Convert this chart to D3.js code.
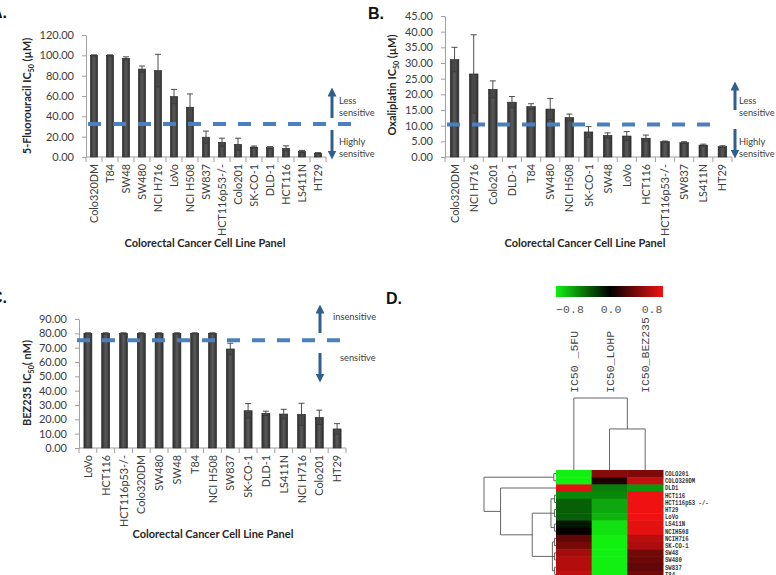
<!DOCTYPE html>
<html><head><meta charset="utf-8">
<script src="https://cdn.jsdelivr.net/npm/d3@7"></script>
<style>body{margin:0;background:#fff}svg{display:block}</style>
</head><body>
<script>
// ---------- DATA ----------
const cellsA = ["Colo320DM","T84","SW48","SW480","NCI H716","LoVo","NCI H508","SW837","HCT116p53-/-","Colo201","SK-CO-1","DLD-1","HCT116","LS411N","HT29"];
const valuesA = [100,100,97,86.5,85,59.5,49,19.5,14.5,12.5,9.8,9.2,8.5,5.5,3.8];
const errorsA = [0.5,0.5,1.5,3,16,7,13,6,4,6,1,1,2.5,1,0.5];
const ticksA = [0,20,40,60,80,100,120];
const thresholdA = 32.5;

const cellsB = ["Colo320DM","NCI H716","Colo201","DLD-1","T84","SW480","NCI H508","SK-CO-1","SW48","LoVo","HCT116","HCT116p53-/-","SW837","LS411N","HT29"];
const valuesB = [31.1,26.5,21.6,17.5,16.1,15.3,12.6,8,6.9,6.7,6,4.9,4.6,3.8,3.3];
const errorsB = [3.9,12.5,2.7,1.8,0.9,3.4,1.1,1.7,0.8,1.4,1,0.2,0.3,0.3,0.3];
const ticksB = [0,5,10,15,20,25,30,35,40,45];
const thresholdB = 10.4;

const cellsC = ["LoVo","HCT116","HCT116p53-/-","Colo320DM","SW480","SW48","T84","NCI H508","SW837","SK-CO-1","DLD-1","LS411N","NCI H716","Colo201","HT29"];
const valuesC = [80,80,80,80,80,80,80,80,69.1,26,24.2,23.7,23.5,21.4,13.3];
const errorsC = [0.4,0.4,0.4,0.4,0.4,0.4,0.4,0.4,4,5,1.5,3.3,7.7,5,3.7];
const ticksC = [0,10,20,30,40,50,60,70,80,90];
const thresholdC = 75.1;

const hmRows = ["COLO201","COLO320DM","DLD1","HCT116","HCT116p53 -/-","HT29","LoVo","LS411N","NCIH508","NCIH716","SK-CO-1","SW48","SW480","SW837","T84"];
const hmCols = ["IC50 _5FU","IC50_LOHP","IC50_BEZ235"];
const hm5FU  = [-0.8,-0.8,0.75,-0.46,-0.32,-0.32,-0.32,-0.08,0.02,0.32,0.4,0.55,0.6,0.6,0.65];
const hmLOHP = [0.45,0.1,-0.42,-0.46,-0.56,-0.56,-0.6,-0.75,-0.75,-0.8,-0.8,-0.8,-0.8,-0.8,-0.8];
const hmBEZ  = [0.42,0.65,-0.5,0.8,0.8,0.8,0.8,0.76,0.76,0.62,0.58,0.38,0.36,0.32,0.38];
const colorTicks = [-0.8,0.0,0.8];
const rowTree = {h:1,c:[{h:0.03,c:["COLO201","COLO320DM"]},
  {h:0.77,c:["DLD1",{h:0.33,c:[
    {h:0.07,c:[{h:0.02,c:["HCT116","HCT116p53 -/-"]},{h:0.02,c:["HT29","LoVo"]},{h:0.02,c:["LS411N","NCIH508"]}]},
    {h:0.05,c:[{h:0.02,c:["NCIH716","SK-CO-1"]},{h:0.02,c:["SW48","SW480"]},{h:0.02,c:["SW837","T84"]}]}]}]}]};
const colTree = {h:1,c:["IC50 _5FU",{h:0.57,c:["IC50_LOHP","IC50_BEZ235"]}]};

// ---------- DRAW ----------
const W=776,H=575;
const svg=d3.select("body").append("svg").attr("width",W).attr("height",H);
const FONT="Lato, 'Liberation Sans', sans-serif";
const defs=svg.append("defs");
const grad=defs.append("linearGradient").attr("id","barg").attr("x1","0").attr("x2","1").attr("y1","0").attr("y2","0");
grad.append("stop").attr("offset","0").attr("stop-color","#2e2e2e");
grad.append("stop").attr("offset","0.5").attr("stop-color","#5a5a5a");
grad.append("stop").attr("offset","1").attr("stop-color","#2e2e2e");
defs.append("marker").attr("id","ah").attr("viewBox","0 0 10 10").attr("refX",5).attr("refY",5)
  .attr("markerWidth",3).attr("markerHeight",3).attr("orient","auto-start-reverse")
  .append("path").attr("d","M0,0 L10,5 L0,10 z").attr("fill","#2f5f8f");

function barPanel(o){
  const g=svg.append("g");
  const x=d3.scaleBand().domain(o.cats).range([o.x0,o.x1]).paddingInner(0.55).paddingOuter(0.275);
  const y=d3.scaleLinear().domain([0,d3.max(o.ticks)]).range([o.yb,o.yt]);
  const ya=g.append("g").attr("transform",`translate(${o.x0},0)`)
    .call(d3.axisLeft(y).tickValues(o.ticks).tickFormat(d3.format(".2f")).tickSize(4).tickSizeOuter(0).tickPadding(8));
  ya.selectAll("path,line").attr("stroke","#a0a0a0");
  ya.selectAll("text").attr("font-family",FONT).attr("font-size",11).attr("fill","#3c3c3c");
  g.append("line").attr("x1",o.x0).attr("x2",o.x1).attr("y1",o.yb).attr("y2",o.yb).attr("stroke","#a0a0a0");
  g.selectAll(".xt").data(d3.range(o.cats.length+1)).join("line")
    .attr("x1",i=>o.x0+i*x.step()).attr("x2",i=>o.x0+i*x.step())
    .attr("y1",o.yb).attr("y2",o.yb+5).attr("stroke","#a0a0a0");
  g.selectAll(".xl").data(o.cats).join("text")
    .attr("transform",d=>`translate(${x(d)+x.bandwidth()/2+4},${o.yb+7}) rotate(-90)`)
    .attr("text-anchor","end").attr("font-family",FONT).attr("font-size",10.8).attr("fill","#3c3c3c").text(d=>d);
  g.selectAll(".bar").data(o.vals).join("rect")
    .attr("x",(d,i)=>x(o.cats[i])).attr("width",x.bandwidth())
    .attr("y",d=>y(d)).attr("height",d=>o.yb-y(d))
    .attr("fill","url(#barg)").attr("stroke","#262626").attr("stroke-width",0.6);
  const eg=g.append("g").attr("stroke","#3a3a3a").attr("stroke-width",0.9);
  o.vals.forEach((v,i)=>{
    const cx=x(o.cats[i])+x.bandwidth()/2, e=o.errs[i];
    eg.append("line").attr("x1",cx).attr("x2",cx).attr("y1",y(v+e)).attr("y2",y(v-e));
    eg.append("line").attr("x1",cx-3).attr("x2",cx+3).attr("y1",y(v+e)).attr("y2",y(v+e));
    eg.append("line").attr("x1",cx-3).attr("x2",cx+3).attr("y1",y(v-e)).attr("y2",y(v-e));
  });
  g.append("line").attr("x1",o.dx).attr("x2",o.dx+263).attr("y1",y(o.thr)).attr("y2",y(o.thr))
    .attr("stroke","#4a7fc0").attr("stroke-width",4).attr("stroke-dasharray","13,12");
  const ag=g.append("g").attr("stroke","#2f5f8f").attr("stroke-width",3);
  ag.append("line").attr("x1",o.ax).attr("x2",o.ax).attr("y1",o.up[0]).attr("y2",o.up[1]+4).attr("marker-end","url(#ah)");
  ag.append("line").attr("x1",o.ax).attr("x2",o.ax).attr("y1",o.dn[0]).attr("y2",o.dn[1]-4).attr("marker-end","url(#ah)");
  o.notes.forEach(n=>g.append("text").attr("x",n[0]).attr("y",n[1]).attr("font-family",FONT)
    .attr("font-size",o.noteSize).attr("fill","#404040").text(n[2]));
  const yt=g.append("text").attr("transform",`translate(${o.ytx},${o.yty}) rotate(-90)`)
    .attr("text-anchor","middle").attr("font-family",FONT).attr("font-weight","bold").attr("font-size",11).attr("fill","#262626");
  yt.append("tspan").text(o.yTitle[0]);
  yt.append("tspan").attr("font-size",7).attr("dy",2.5).text("50");
  yt.append("tspan").attr("dy",-2.5).text(o.yTitle[1]);
  g.append("text").attr("x",o.xtx).attr("y",o.xty).attr("text-anchor","middle").attr("font-family",FONT)
    .attr("font-weight","bold").attr("font-size",11).attr("fill","#262626").text("Colorectal Cancer Cell Line Panel");
}

barPanel({cats:cellsA,vals:valuesA,errs:errorsA,ticks:ticksA,thr:thresholdA,
  x0:86,x1:326,yb:157,yt:35,dx:88,ax:332,up:[118,88],dn:[130,159],noteSize:9.3,
  notes:[[339,104,"Less"],[339,116,"sensitive"],[339,145,"Highly"],[339,157,"sensitive"]],
  ytx:31,yty:96,yTitle:["5-Fluorouracil IC"," (µM)"],xtx:205,xty:247});
barPanel({cats:cellsB,vals:valuesB,errs:errorsB,ticks:ticksB,thr:thresholdB,
  x0:445,x1:732,yb:157,yt:16,dx:447,ax:735,up:[110,82],dn:[129,158],noteSize:9.3,
  notes:[[739,104,"Less"],[739,116,"sensitive"],[739,145,"Highly"],[739,157,"sensitive"]],
  ytx:396,yty:85,yTitle:["Oxaliplatin IC"," (µM)"],xtx:585,xty:247});
barPanel({cats:cellsC,vals:valuesC,errs:errorsC,ticks:ticksC,thr:thresholdC,
  x0:79,x1:346,yb:448,yt:319,dx:77,ax:320,up:[333,305],dn:[353,382],noteSize:9.3,
  notes:[[333,320,"insensitive"],[340,361,"sensitive"]],
  ytx:31,yty:383,yTitle:["BEZ235 IC","( nM)"],xtx:213,xty:538});

[["A.",-9,18],["B.",368,19],["C.",-9,303],["D.",386,304]].forEach(p=>
  svg.append("text").attr("x",p[1]).attr("y",p[2]).attr("font-family","'Liberation Sans', Arial, sans-serif")
   .attr("font-weight","bold").attr("font-size",16).attr("fill","#111").text(p[0]));

// ---------- HEATMAP ----------
const hmVals=[hm5FU,hmLOHP,hmBEZ];
const color=d3.scaleLinear().domain([-0.8,0,0.8]).range(["#12f012","#000000","#f01212"]).clamp(true);
const xh=d3.scaleBand().domain(hmCols).range([556,663]);
const yh=d3.scaleBand().domain(hmRows).range([470,470+7.2*hmRows.length]);
const hg=svg.append("g");
hmCols.forEach((c,ci)=>{
  hg.selectAll(null).data(hmRows).join("rect")
    .attr("x",xh(c)).attr("width",xh.bandwidth()+0.5)
    .attr("y",d=>yh(d)).attr("height",yh.bandwidth()+0.5)
    .attr("fill",(d,ri)=>color(hmVals[ci][ri]));
});
hg.selectAll(".rl").data(hmRows).join("text")
  .attr("transform",d=>`translate(665,${yh(d)+yh.bandwidth()/2+2.3}) scale(0.85,1)`)
  .attr("font-family","'Liberation Mono', monospace").attr("font-weight","bold").attr("font-size",6.6).attr("fill","#333").text(d=>d);
hg.selectAll(".cl").data(hmCols).join("text")
  .attr("transform",d=>`translate(${xh(d)+xh.bandwidth()/2+4},393) rotate(-90)`)
  .attr("font-family","'Liberation Mono', monospace").attr("font-size",11.5).attr("fill","#444").text(d=>d);
const cg=defs.append("linearGradient").attr("id","cbar");
d3.range(0,1.0001,0.125).forEach(t=>cg.append("stop").attr("offset",t).attr("stop-color",color(-0.8+1.6*t)));
hg.append("rect").attr("x",556).attr("y",286).attr("width",107).attr("height",11).attr("fill","url(#cbar)");
const cl=d3.scaleLinear().domain([-0.8,0.8]).range([570,652]);
hg.selectAll(".ct").data(colorTicks).join("text").attr("x",d=>cl(d)).attr("y",313).attr("text-anchor","middle")
  .attr("font-family","'Liberation Mono', monospace").attr("font-size",11.5).attr("fill","#555").text(d=>d3.format(".1f")(d));

function leafPos(node,pos){ if(typeof node==="string") return pos(node);
  const ps=node.c.map(ch=>leafPos(ch,pos)); return (ps[0]+ps[ps.length-1])/2; }
function hOf(node){ return typeof node==="string"?0:node.h; }
const dg=svg.append("g").attr("stroke","#555").attr("stroke-width",0.9).attr("fill","none");
const rx=d3.scaleLinear().domain([0,1]).range([556,484]);
const rowPos=r=>yh(r)+yh.bandwidth()/2;
function drawRow(node){ if(typeof node==="string") return;
  const ys=node.c.map(ch=>leafPos(ch,rowPos));
  dg.append("line").attr("x1",rx(node.h)).attr("x2",rx(node.h)).attr("y1",ys[0]).attr("y2",ys[ys.length-1]);
  node.c.forEach((ch,i)=>{ dg.append("line").attr("x1",rx(node.h)).attr("x2",rx(hOf(ch))).attr("y1",ys[i]).attr("y2",ys[i]); drawRow(ch); });
}
drawRow(rowTree);
const cy=d3.scaleLinear().domain([0,1]).range([470,398]);
const colPos=c=>xh(c)+xh.bandwidth()/2;
function drawCol(node){ if(typeof node==="string") return;
  const xs=node.c.map(ch=>leafPos(ch,colPos));
  dg.append("line").attr("y1",cy(node.h)).attr("y2",cy(node.h)).attr("x1",xs[0]).attr("x2",xs[xs.length-1]);
  node.c.forEach((ch,i)=>{ dg.append("line").attr("y1",cy(node.h)).attr("y2",cy(hOf(ch))).attr("x1",xs[i]).attr("x2",xs[i]); drawCol(ch); });
}
drawCol(colTree);
</script>
</body></html>
